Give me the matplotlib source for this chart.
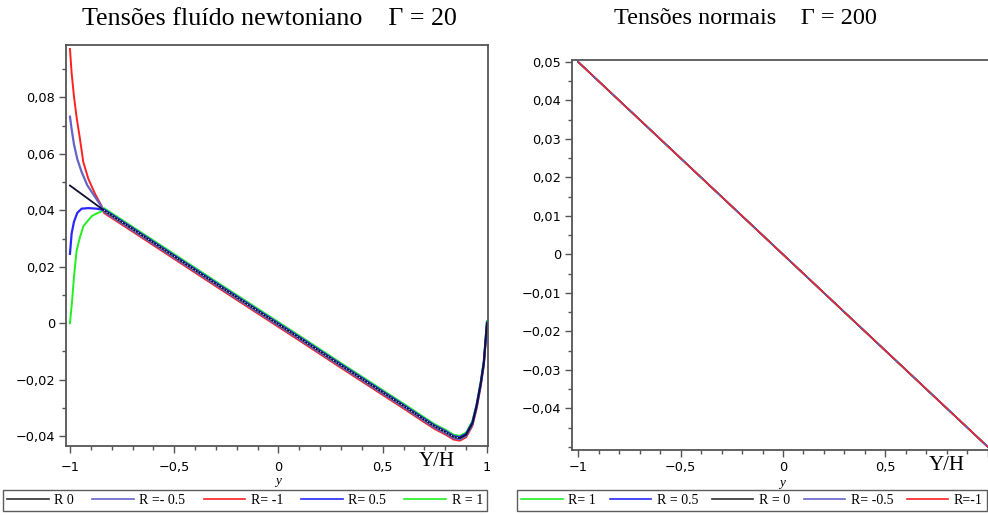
import matplotlib
matplotlib.use("Agg")
import matplotlib.pyplot as plt
from matplotlib.lines import Line2D
from matplotlib.ticker import MultipleLocator
import numpy as np

# ---------------- data ----------------
# shared central band of the left panel (R = 0 curve), x >= -0.84
band_x = [-0.837, -0.7, -0.5, -0.3, -0.1, 0.0, 0.1, 0.3, 0.5, 0.6, 0.7, 0.75,
          0.8, 0.84, 0.87, 0.9, 0.93, 0.95, 0.97, 0.985, 1.0]
band_y = [0.0400, 0.0334, 0.0237, 0.0140, 0.0044, -0.0004, -0.0052, -0.0149,
          -0.0245, -0.0293, -0.0342, -0.0366, -0.0385, -0.0403, -0.0407,
          -0.0395, -0.0355, -0.0295, -0.0215, -0.0140, 0.0]
# small offsets of each series within the band
off_red = [-0.0009] * 21
off_slate = [-0.0004] * 21
off_blue = [0.0003] * 21
off_green = [0.0008] * 21

# near-wall parts (x < -0.84)
red_x = [-1.0, -0.992, -0.981, -0.968, -0.952, -0.936, -0.912, -0.880, -0.850]
red_y = [0.0972, 0.0887, 0.0805, 0.0729, 0.0653, 0.0571, 0.0512, 0.0459, 0.0418]
slate_x = [-1.0, -0.992, -0.981, -0.965, -0.944, -0.917, -0.880, -0.850]
slate_y = [0.0732, 0.0688, 0.0635, 0.0582, 0.0536, 0.0489, 0.0448, 0.0415]
black_x = [-1.0]
black_y = [0.0488]
blue_x = [-1.0, -0.992, -0.981, -0.965, -0.944, -0.912, -0.872, -0.850]
blue_y = [0.0246, 0.0318, 0.0359, 0.0391, 0.0406, 0.0408, 0.0406, 0.0403]
green_x = [-1.0, -0.995, -0.99, -0.981, -0.968, -0.952, -0.935, -0.912, -0.895,
           -0.872, -0.850]
green_y = [0.0, 0.0040, 0.0077, 0.0162, 0.0258, 0.0305, 0.0345, 0.0365, 0.0380,
           0.0389, 0.0396]

# right panel: normal stresses, all R curves coincide
right_x = [-1.0, 1.0]
right_y = [0.050, -0.050]

left_labels = ["R 0", "R =- 0.5", "R= -1", "R= 0.5", "R = 1"]
right_labels = ["R= 1", "R = 0.5", "R = 0", "R= -0.5", "R=-1"]

left_yticks = [-0.04, -0.02, 0.0, 0.02, 0.04, 0.06, 0.08]
left_yticklabels = ["\u22120,04", "\u22120,02", "0", "0,02", "0,04", "0,06", "0,08"]
right_yticks = [-0.04, -0.03, -0.02, -0.01, 0.0, 0.01, 0.02, 0.03, 0.04, 0.05]
right_yticklabels = ["\u22120,04", "\u22120,03", "\u22120,02", "\u22120,01", "0",
                     "0,01", "0,02", "0,03", "0,04", "0,05"]
left_xticks = [-1, -0.5, 0, 0.5, 1]
left_xticklabels = ["\u22121", "\u22120,5", "0", "0,5", "1"]
right_xticks = [-1, -0.5, 0, 0.5, 1]
right_xticklabels = ["\u22121", "\u22120,5", "0", "0,5", ""]

title_left = "Tensões fluído newtoniano    \u0393 = 20"
title_right = "Tensões normais    \u0393 = 200"

# ---------------- styling ----------------
C_BLACK = "#303030"
C_SLATE = "#6464c8"
C_RED = "#ff2020"
C_BLUE = "#2828ff"
C_GREEN = "#20f020"
SPINE = "#555555"
SERIF = "Liberation Serif"
TICKFONT = "DejaVu Sans"

W, H = 988, 515
fig = plt.figure(figsize=(W / 100, H / 100), dpi=100)


def px_axes(l, t, r, b):
    return fig.add_axes([l / W, 1 - b / H, (r - l) / W, (b - t) / H])


def style(ax, xt, xtl, yt, ytl, yminor, xpad):
    for s in ax.spines.values():
        s.set_color(SPINE)
        s.set_linewidth(1.3)
    ax.set_xticks(xt)
    ax.set_xticklabels(xtl, family=TICKFONT)
    ax.set_yticks(yt)
    ax.set_yticklabels(ytl, family=TICKFONT)
    ax.xaxis.set_minor_locator(MultipleLocator(0.1))
    ax.yaxis.set_minor_locator(MultipleLocator(yminor))
    ax.tick_params(which="major", direction="out", length=5, width=1,
                   color=SPINE, labelsize=9.3)
    ax.tick_params(axis="x", which="major", pad=xpad)
    ax.tick_params(axis="y", which="major", pad=3)
    ax.tick_params(which="minor", direction="out", length=3, width=1, color=SPINE)


# ---- left panel ----
axL = px_axes(66, 45, 488, 446)
bx = np.array(band_x)
by = np.array(band_y)


def series(nx, ny, off):
    return list(nx) + list(bx), list(ny) + list(by + np.array(off))


x, y = series(green_x, green_y, off_green)
axL.plot(x, y, color=C_GREEN, lw=1.4)
x, y = series(red_x, red_y, off_red)
axL.plot(x, y, color=C_RED, lw=1.4)
x, y = series(slate_x, slate_y, off_slate)
axL.plot(x, y, color=C_SLATE, lw=1.6)
x, y = series(blue_x, blue_y, off_blue)
axL.plot(x, y, color=C_BLUE, lw=1.6)
x, y = series(black_x, black_y, [0.0] * 21)
axL.plot(x, y, color="#101030", lw=1.3)
axL.plot(bx[:-6], by[:-6], color="white", lw=0.7, ls=(0, (1, 2.2)))

axL.set_xlim(-1.019, 1.005)
axL.set_ylim(-0.0435, 0.0986)
style(axL, left_xticks, left_xticklabels, left_yticks, left_yticklabels, 0.01, 6)

# ---- right panel ----
axR = px_axes(572, 60, 994, 450)
for c in [C_GREEN, C_BLUE, C_BLACK, C_SLATE]:
    axR.plot(right_x, right_y, color=c, lw=1.2)
axR.plot(right_x, right_y, color=C_RED, lw=1.0, ls=(0, (16, 1.5)))
axR.set_xlim(-1.03, 1.03)
axR.set_ylim(-0.0508, 0.0505)
style(axR, right_xticks, right_xticklabels, right_yticks, right_yticklabels, 0.005, 3)

# ---- texts ----
fig.text(269 / W, 1 - 19 / H, title_left, ha="center", va="center",
         family=SERIF, fontsize=18.7)
fig.text(745 / W, 1 - 19 / H, title_right, ha="center", va="center",
         family=SERIF, fontsize=17.5)
fig.text(437 / W, 1 - 462 / H, "Y/H", ha="center", va="center",
         family=SERIF, fontsize=15)
fig.text(947 / W, 1 - 465 / H, "Y/H", ha="center", va="center",
         family=SERIF, fontsize=15)
fig.text(278 / W, 1 - 481 / H, "y", ha="center", va="center",
         family=SERIF, style="italic", fontsize=9.5)
fig.text(782 / W, 1 - 483 / H, "y", ha="center", va="center",
         family=SERIF, style="italic", fontsize=9.5)

# ---- legends ----
hl = [Line2D([], [], color=c, lw=1.2) for c in [C_BLACK, C_SLATE, C_RED, C_BLUE, C_GREEN]]
hr = [Line2D([], [], color=c, lw=1.2) for c in [C_GREEN, C_BLUE, C_BLACK, C_SLATE, C_RED]]
legkw = dict(loc="lower left", mode="expand", ncol=5, borderaxespad=0,
             frameon=True, fancybox=False, handlelength=3.0, handletextpad=0.4,
             columnspacing=0.4, borderpad=0.3,
             prop={"family": SERIF, "size": 10})
lg1 = fig.legend(hl, left_labels, bbox_to_anchor=(3 / W, 1 - 511 / H, 484 / W, 23 / H), **legkw)
lg2 = fig.legend(hr, right_labels, bbox_to_anchor=(517 / W, 1 - 511 / H, 470 / W, 23 / H), **legkw)
for lg in (lg1, lg2):
    fr = lg.get_frame()
    fr.set_edgecolor("#333333")
    fr.set_linewidth(1.0)

fig.savefig("out.png", dpi=100)
